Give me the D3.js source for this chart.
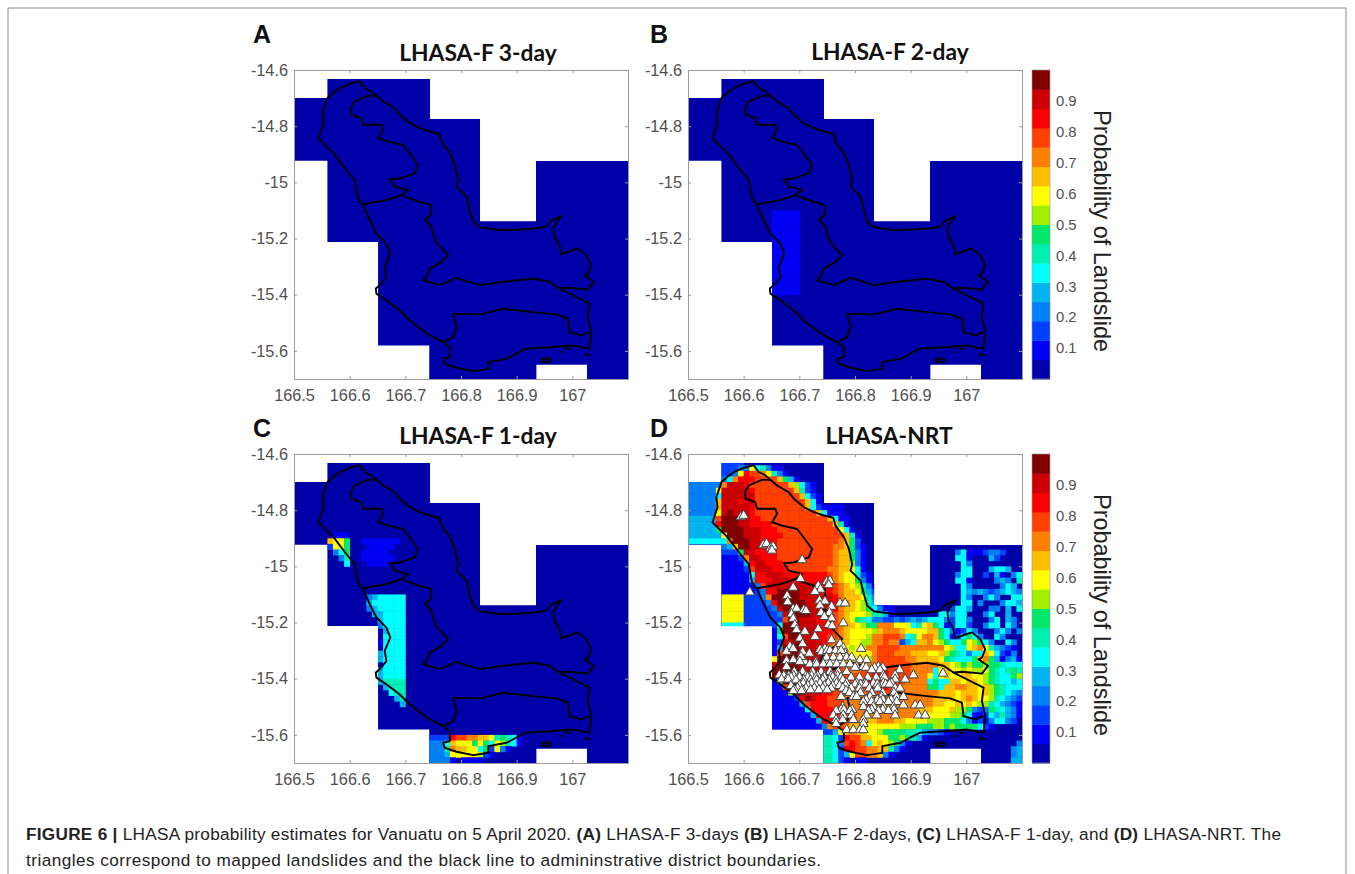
<!DOCTYPE html>
<html><head><meta charset="utf-8">
<script src="https://cdnjs.cloudflare.com/ajax/libs/d3/7.8.5/d3.min.js"></script>
<style>html,body{margin:0;padding:0;background:#fff}svg{display:block}</style>
</head><body><svg id="c" width="1355" height="874"></svg>
<script>
const panelTitles = ["LHASA-F 3-day","LHASA-F 2-day","LHASA-F 1-day","LHASA-NRT"];
const panelLetters = ["A","B","C","D"];
const latTicks = [-14.6,-14.8,-15,-15.2,-15.4,-15.6];
const latTickLabels = ["-14.6","-14.8","-15","-15.2","-15.4","-15.6"];
const lonTicks = [166.5,166.6,166.7,166.8,166.9,167];
const lonTickLabels = ["166.5","166.6","166.7","166.8","166.9","167"];
const probTicks = [0.1,0.2,0.3,0.4,0.5,0.6,0.7,0.8,0.9];
const levelColors = ["#0000a8","#0000f5","#0040ff","#0080f5","#00b4f0","#00ffff","#00f0b4","#00e86a","#a0f000","#ffff00","#ffbf00","#ff8000","#ff4000","#ff0000","#cc0000","#800000"];
// data extent columns: lon0, lon1, north lat, south lat
const domainColumns = [
 [166.5,166.56,-14.698,-14.923],[166.56,166.651,-14.632,-15.213],[166.651,166.743,-14.632,-15.581],
 [166.743,166.833,-14.773,-15.7],[166.833,166.934,-15.138,-15.7],[166.934,167.026,-14.923,-15.649],[167.026,167.1,-14.923,-15.7]];
// probability level per cell (hex 0-f); 0.01 deg lon x 0.02 deg lat, from 166.5E, -14.6
const gridA = [];
const gridB = ["","","","","","","","","","","","","","","","","","","","","","","","","",
 "0000000000 0000011111","0000000000 0000011111","0000000000 0000011111","0000000000 0000011111","0000000000 0000011111",
 "0000000000 0000011111","0000000000 0000011111","0000000000 0000011111","0000000000 0000011111","0000000000 0000011111",
 "0000000000 0000011111","0000000000 0000011111","0000000000 0000011111","0000000000 0000011111","0000000000 0000011111"];
const gridC = ["","","","","","","","","","","","","","",
 "0000000111","000000a997 0011111110","0000002997 0001111100","0000000357 0011111000","0000000036 0011111100","0000000005 0001111000",
 "","","","","",
 "0000000000 0003455555","0000000000 0004555555","0000000000 0003455555","0000000000 0000445555","0000000000 0000045555",
 "0000000000 0000035555","0000000000 0000004555","0000000000 0000005555","0000000000 0000015555","0000000000 0000105555",
 "0000000000 0000145555","0000000000 0000145555","0000000000 0000105555","0000000000 0000045555","0000000000 0000445555",
 "0000000000 0000046666","0000000000 0000004666","0000000000 0000000566","0000000000 0000000046","0000000000 0000000004",
 "","","","","",
 "0000000000 0000000000 00002222dc cbbaa96765 1",
 "0000000000 0000000000 00003335a9 9979759865 1",
 "0000000000 0000000000 00003336ba a995729310",
 "0000000000 0000000000 0000333499 9998210000",
 "0000000000 0000000000 0000333310 1111000000"];
const gridD = [
 "",
 "0000002222",
 "0000002223 3956311000",
 "0000002239 dccb963100",
 "00000035bd ddcccca741",
 "333333beee dccccccca8 521",
 "333339eeee edccccccca 6210",
 "333335eeee eecccccccc a521",
 "33333aeeed eecccccccc ca51",
 "33333aeeee edcccccccc ca52111100",
 "333339efee edcccccccc ccca511100",
 "44444cfffe eddccccccc ccccca5110",
 "44444dfffe eddddccccc cccccca610",
 "444447ffff eeedddcccc ccccccc951",
 "4444449fff eeeddddccc cccccccca6 1",
 "5555555bff feedddcccc cccccccba7 2",
 "00000034af feedddcccc ccccccbba7 21",
 "0000002227 eeddddcccc ccccccbaa7 3100000000 0000000035 1112332000",
 "0000001112 beedddcccc ccccccbaa7 3100000000 0000000055 1000420000",
 "0000001111 4deedddccc ccccccbaa8 3100000000 0000000005 3000000000",
 "0000001111 2ceeedddcc cccccbbaa9 5100000000 0000000005 5000455400",
 "0000001111 15ddeeeddd dddddcba99 6210000000 0000000035 5002041035",
 "0000001111 14dddeeedd dddddcba99 7310000000 0000000055 1000034306",
 "0000001111 113ceeeeee eeedddcba9 8631000000 0000000005 3000003540",
 "0000001111 1123ddffff eeeeddcbaa 9742100000 0000000005 4343234543",
 "0000009999 2223bfffff eeeeeedbaa a963100000 0000000005 3003530055",
 "0000009999 22223dffff feeeeedcba 9864210000 0000000005 5030003554",
 "0000009999 222223efff feeeeddbaa 9875311000 0000000255 4000330405",
 "0000009999 2222223eff ffeeedcba9 9986641000 0000055355 0003500400",
 "0000009999 2222222cff eeedddcba9 7653322323 4345553255 3000350430",
 "0000005555 2222225fff eeedddcbaa 9877bbb999 569a751255 2003550530",
 "0000000000 0000017fff eeedddcba9 9998abbba9 999aa75312 5300035303",
 "0000000000 0000015cff eeeddccba9 998bbcccb5 69bba75125 7530053000",
 "0000000000 0000012eef eeeedcbaa9 988bbcbb24 5aab987557 9875300530",
 "0000000000 0000014fff eeedcba998 98bbccccbb bbbbbb9855 9ab9643210",
 "0000000000 000001cfff eeeedcbaa9 999bcccbbb aaa99a8765 355a952130",
 "0000000000 000019ffff eeeedcbaa9 998bcccccb baaaa97655 57ab741341",
 "0000000000 00013effff eeeedddcbb bbbbcccccc bbbbbaa987 8778776555",
 "0000000000 0007ffffff eeeedddccb bcccddcccc bbbb59a998 9889765676",
 "0000000000 0009ffffff eeeddddccc cccdddcccc bbb959a99a a998765578",
 "0000000000 0000016fff eeedddcccc ccddddcccb bbb5755aa9 aa98765545",
 "0000000000 0000011cff eeeedddccb bccdddccbb bbb775aabb aa9a876555",
 "0000000000 000001118f feeeddcccb bbcccccbbb bbbbbaaa9a aa9a876543",
 "0000000000 0000011112 dfeddcccbb bbcbbbbbbb bbbbaaaa9a ba99865432",
 "0000000000 0000011111 4cdddcccbb bbcbbbbbbb bbbbaa99a9 a988654321",
 "0000000000 0000011111 15ddddccbb bbbbbbbbbb baaa999a88 7323765431",
 "0000000000 0000011111 114ddddccb bbbbbbbbbb baa9999887 5112546431",
 "0000000000 0000011111 1114ddcccb baaabbbaa9 9998887775 3121355320",
 "0000000000 0000011111 11113bccba aa99999988 8777887877 7752100000",
 "0000000000 0000000000 00002249ab aa99877776 6543321000 0000000000",
 "0000000000 0000000000 00006652dc caa9997787 6410000000 0000000000",
 "0000000000 0000000000 00006653cd cb59a98731 0000000000 0000000003",
 "0000000000 0000000000 00006652dd ccbbaa6310 0000000000 0000000034",
 "0000000000 0000000000 0000665249 ccbba31000 0000000000 0000000034",
 "0000000000 0000000000 0000665210 1100000000 0000000000 0000000044"];
const coast = [[166.618,-14.64],[166.627,-14.664],[166.639,-14.676],[166.648,-14.692],[166.66,-14.712],[166.681,-14.736],[166.69,-14.759],[166.708,-14.789],[166.726,-14.807],[166.744,-14.819],[166.761,-14.827],[166.765,-14.855],[166.78,-14.896],[166.789,-14.938],[166.795,-14.992],[166.792,-15.015],[166.81,-15.051],[166.816,-15.099],[166.822,-15.14],[166.834,-15.16],[166.87,-15.17],[166.905,-15.168],[166.929,-15.165],[166.953,-15.158],[166.962,-15.137],[166.98,-15.12],[166.971,-15.146],[166.966,-15.164],[166.968,-15.194],[166.976,-15.218],[166.98,-15.256],[166.992,-15.247],[167.01,-15.235],[167.025,-15.259],[167.034,-15.295],[167.028,-15.325],[167.022,-15.331],[167.031,-15.343],[167.039,-15.354],[167.028,-15.382],[167.007,-15.378],[166.992,-15.375],[166.977,-15.378],[167.007,-15.408],[167.031,-15.432],[167.028,-15.479],[167.034,-15.533],[167.031,-15.592],[167.001,-15.581],[166.959,-15.587],[166.917,-15.592],[166.899,-15.61],[166.882,-15.628],[166.849,-15.64],[166.849,-15.664],[166.822,-15.672],[166.792,-15.66],[166.771,-15.646],[166.768,-15.628],[166.78,-15.622],[166.78,-15.587],[166.768,-15.569],[166.744,-15.545],[166.711,-15.497],[166.69,-15.456],[166.666,-15.42],[166.648,-15.396],[166.647,-15.378],[166.654,-15.366],[166.666,-15.337],[166.663,-15.301],[166.673,-15.253],[166.666,-15.218],[166.648,-15.182],[166.636,-15.134],[166.624,-15.081],[166.615,-15.057],[166.609,-14.992],[166.594,-14.956],[166.571,-14.896],[166.553,-14.861],[166.544,-14.843],[166.553,-14.789],[166.551,-14.754],[166.56,-14.7],[166.574,-14.676],[166.583,-14.664],[166.6,-14.649],[166.618,-14.64]];
const districtNorth = [[166.648,-14.692],[166.633,-14.692],[166.609,-14.712],[166.602,-14.736],[166.603,-14.759],[166.621,-14.771],[166.624,-14.795],[166.657,-14.795],[166.66,-14.813],[166.651,-14.843],[166.669,-14.855],[166.696,-14.867],[166.705,-14.89],[166.723,-14.938],[166.717,-14.968],[166.69,-14.986],[166.672,-14.989],[166.681,-15.015],[166.705,-15.027],[166.693,-15.045],[166.666,-15.063],[166.624,-15.078]];
const districtMid = [[166.696,-15.049],[166.726,-15.069],[166.746,-15.081],[166.746,-15.116],[166.735,-15.132],[166.747,-15.158],[166.753,-15.206],[166.765,-15.235],[166.777,-15.259],[166.765,-15.283],[166.744,-15.307],[166.738,-15.337],[166.732,-15.349],[166.762,-15.366],[166.792,-15.34],[166.834,-15.366],[166.876,-15.354],[166.929,-15.343],[166.959,-15.354],[166.977,-15.378]];
const districtSouth = [[167.031,-15.533],[167.016,-15.545],[166.995,-15.533],[166.992,-15.485],[166.971,-15.47],[166.929,-15.462],[166.876,-15.45],[166.834,-15.47],[166.786,-15.468],[166.792,-15.515],[166.786,-15.551],[166.768,-15.569]];
const islet = [[166.943,-15.634],[166.948,-15.628],[166.956,-15.627],[166.962,-15.632],[166.958,-15.639],[166.949,-15.64],[166.943,-15.634]];
const rocks = [[[166.987,-15.591],[166.996,-15.593]],[[166.978,-15.604],[166.982,-15.604]],[[167.022,-15.612],[167.034,-15.615]]];
// mapped landslides: [lat, lon...]
const landslides = [
 [-14.824,166.595],[-14.819,166.6],[-14.924,166.635],[-14.919,166.641],[-14.935,166.648],[-14.929,166.653],[-14.943,166.651],
 [-14.977,166.705],[-15.044,166.702],[-15.092,166.611],[-15.075,166.689],[-15.105,166.678],[-15.127,166.679],
 [-15.069,166.734],[-15.082,166.738],[-15.09,166.728],[-15.055,166.749],[-15.051,166.755],[-15.066,166.753],
 [-15.121,166.736],[-15.124,166.746],[-15.139,166.737],[-15.143,166.758],[-15.131,166.773,166.782],
 [-15.152,166.689],[-15.15,166.695],[-15.155,166.708],[-15.158,166.712],[-15.17,166.686],[-15.186,166.689],
 [-15.165,166.739,166.754],[-15.179,166.745],[-15.185,166.758],[-15.208,166.752,166.692],[-15.202,166.779],[-15.223,166.734],[-15.212,166.759],
 [-15.226,166.695],[-15.232,166.71],[-15.25,166.728],[-15.256,166.701],[-15.262,166.758],[-15.276,166.706,166.773],
 [-15.285,166.683],[-15.303,166.677],[-15.293,166.689,166.746,166.811],[-15.291,166.779],[-15.296,166.737],[-15.305,166.74,166.706],[-15.31,166.782,166.718],
 [-15.30,166.75,166.755,166.765,166.775],[-15.34,166.71,166.73,166.75,166.76,166.775],
 [-15.322,166.703],[-15.336,166.677],[-15.333,166.689],[-15.357,166.677],[-15.339,166.701],
 [-15.324,166.749,166.761,166.773,166.785,166.794],[-15.333,166.809,166.821],
 [-15.348,166.719,166.731,166.743,166.755,166.767,166.779,166.791],[-15.357,166.803,166.815,166.842],
 [-15.36,166.8,166.82,166.835,166.85],
 [-15.369,166.88,166.83,166.845],[-15.375,166.691,166.706,166.724,166.739,166.755,166.77,166.785],
 [-15.387,166.664,166.673,166.851,166.872,166.905],[-15.381,166.958],
 [-15.39,166.672,166.681,166.69,166.7,166.712,166.722,166.733,166.745,166.757,166.769],
 [-15.395,166.685,166.7,166.715,166.73,166.745,166.76,166.775,166.793,166.808,166.823,166.838,166.853],
 [-15.402,166.668,166.68,166.872,166.89],
 [-15.405,166.694,166.708,166.72,166.731,166.742,166.754,166.766,166.778],
 [-15.416,166.707,166.722,166.737,166.752,166.767,166.785,166.803,166.818,166.833,166.851,166.866],
 [-15.42,166.8,166.81,166.82,166.84,166.855,166.862],
 [-15.425,166.685,166.7,166.715,166.73,166.745,166.76,166.772,166.783],
 [-15.434,166.697,166.712,166.727,166.742,166.757,166.778,166.793,166.808,166.826,166.841,166.872,166.881],
 [-15.44,166.692,166.706,166.72,166.735,166.75],
 [-15.443,166.689,166.704,166.784],[-15.45,166.79,166.81,166.83,166.85,166.87],
 [-15.464,166.775,166.797,166.803,166.827,166.848,166.875,166.887],[-15.475,166.82,166.84,166.85,166.865],
 [-15.482,166.815,166.83,166.845,166.86,166.875],[-15.494,166.908,166.917,166.887],
 [-15.5,166.778,166.815,166.833,166.851,166.869],[-15.51,166.775,166.78,166.795,166.83,166.85,166.87],[-15.514,166.766,166.791,166.824,166.842,166.86],
 [-15.53,166.761,166.779,166.794,166.821,166.839,166.872,166.914,166.926],
 [-15.546,166.766,166.778,166.797,166.815],[-15.56,166.766,166.815],[-15.582,166.785,166.797,166.809,166.815]];

const svg = d3.select("#c");
const W = 334, H = 309;
const sans = "'Liberation Sans',Arial,sans-serif";
const defs = svg.append("defs");
defs.append("filter").attr("id","soft").attr("x","-2%").attr("y","-2%").attr("width","104%").attr("height","104%")
  .append("feGaussianBlur").attr("stdDeviation",0.55);
const layouts = [{x:294,y:70,g:gridA,t:false},{x:688,y:70,g:gridB,t:false},{x:294,y:454,g:gridC,t:false},{x:688,y:454,g:gridD,t:true}];
const parse = s => s.replace(/\s/g,"");
const titleCx = [478,890,478,889];
const letterPos = [[253,43],[650,43],[253,437],[650,437]];
const titleY = [61,60,444,444];

layouts.forEach((L,i)=>{
  const x = d3.scaleLinear().domain([166.5,167.1]).range([L.x,L.x+W]);
  const y = d3.scaleLinear().domain([-14.6,-15.7]).range([L.y,L.y+H]);
  const g = svg.append("g");
  const clipId = "clip"+i;
  const cp = defs.append("clipPath").attr("id",clipId);
  cp.selectAll("rect").data(domainColumns).join("rect").attr("shape-rendering","crispEdges")
    .attr("x",d=>x(d[0])).attr("y",d=>y(d[2])).attr("width",d=>x(d[1])-x(d[0])+0.8).attr("height",d=>y(d[3])-y(d[2]));
  const map = g.append("g").attr("filter","url(#soft)");
  const heat = map.append("g").attr("clip-path",`url(#${clipId})`);
  heat.selectAll("rect.base").data(domainColumns).join("rect").attr("class","base").attr("shape-rendering","crispEdges")
    .attr("x",d=>x(d[0])).attr("y",d=>y(d[2])).attr("width",d=>x(d[1])-x(d[0])+1).attr("height",d=>y(d[3])-y(d[2]))
    .attr("fill",levelColors[0]);
  const cells=[];
  L.g.forEach((row,r)=>{ parse(row).split("").forEach((ch,c)=>{ const v=parseInt(ch,16); if(v>0&&c<60) cells.push({r,c,v}); }); });
  heat.selectAll("rect.cell").data(cells).join("rect").attr("class","cell")
    .attr("x",d=>x(166.5+d.c*0.01)).attr("y",d=>y(-14.6-d.r*0.02))
    .attr("width",d=>x(166.51)-x(166.5)+0.4).attr("height",d=>y(-14.62)-y(-14.6)+0.4)
    .attr("fill",d=>levelColors[d.v]);
  const line = d3.line().x(d=>x(d[0])).y(d=>y(d[1])).curve(d3.curveLinear);
  [coast,districtNorth,districtMid,districtSouth,islet,...rocks].forEach(p=>{
    map.append("path").attr("d",line(p)).attr("fill","none").attr("stroke","#000").attr("stroke-width",1.9).attr("stroke-linejoin","round");
  });
  const ax = g.append("g").attr("font-family",sans);
  const grey = "#9a9a9a";
  const ya = d3.axisLeft(y).tickValues(latTicks).tickSize(-3).tickPadding(6).tickFormat((d,k)=>latTickLabels[k]);
  const xa = d3.axisBottom(x).tickValues(lonTicks).tickSize(-3).tickPadding(10).tickFormat((d,k)=>lonTickLabels[k]);
  const top = d3.axisTop(x).tickValues(lonTicks).tickSize(-3).tickFormat(()=>"");
  const right = d3.axisRight(y).tickValues(latTicks).tickSize(-3).tickFormat(()=>"");
  const sty = s=>{ s.selectAll("path,line").attr("stroke",grey).attr("stroke-width",1); s.selectAll("text").attr("fill","#505050").attr("font-size",16.3).attr("font-family",sans); };
  ax.append("g").attr("transform",`translate(${L.x},0)`).call(ya).call(sty);
  ax.append("g").attr("transform",`translate(0,${L.y+H})`).call(xa).call(sty);
  ax.append("g").attr("transform",`translate(0,${L.y})`).call(top).call(sty);
  ax.append("g").attr("transform",`translate(${L.x+W},0)`).call(right).call(sty);
  if(L.t){
    const pts=[]; landslides.forEach(r=>r.slice(1).forEach(lon=>pts.push([lon,r[0]])));
    g.append("g").selectAll("path").data(pts).join("path")
      .attr("d",d3.symbol(d3.symbolTriangle).size(40))
      .attr("transform",d=>`translate(${x(d[0])},${y(d[1])})`)
      .attr("fill","#fff").attr("stroke","#444").attr("stroke-width",1);
  }
  svg.append("text").text(panelLetters[i]).attr("x",letterPos[i][0]).attr("y",letterPos[i][1])
    .attr("font-family",sans).attr("font-weight","bold").attr("font-size",25).attr("fill","#111");
  svg.append("text").text(panelTitles[i]).attr("x",titleCx[i]).attr("y",titleY[i]).attr("text-anchor","middle")
    .attr("font-family","Lato,sans-serif").attr("font-weight","bold").attr("font-size",22.8).attr("fill","#111");
});

[70,454].forEach(top=>{
  const cy = d3.scaleLinear().domain([0,1]).range([top+309,top]);
  const g = svg.append("g");
  const bar = g.append("g").attr("filter","url(#soft)");
  bar.selectAll("rect").data(levelColors).join("rect")
    .attr("x",1032).attr("width",18).attr("y",(d,i)=>cy((i+1)/16)).attr("height",(d,i)=>cy(i/16)-cy((i+1)/16)+0.5).attr("fill",d=>d);
  const a = d3.axisRight(cy).tickValues(probTicks).tickSize(0).tickPadding(6).tickFormat(d3.format(".1f"));
  const ag = g.append("g").attr("transform","translate(1050,0)").call(a);
  ag.select("path").remove();
  ag.selectAll("text").attr("fill","#505050").attr("font-size",14.8).attr("font-family",sans);
  g.append("rect").attr("x",1032).attr("y",top).attr("width",18).attr("height",309).attr("fill","none").attr("stroke","#9a9a9a").attr("stroke-width",0.6);
  g.append("text").text("Probability of Landslide")
    .attr("transform",`translate(1094,${top+161}) rotate(90)`).attr("text-anchor","middle")
    .attr("font-family",sans).attr("font-size",23.4).attr("fill","#222");
});

svg.append("path").attr("d","M8,874V8H1346V874").attr("fill","none").attr("stroke","#8a8a8a").attr("stroke-width",1);
const cap = svg.append("g").attr("font-family",sans).attr("font-size",17.2).attr("fill","#222");
const l1 = cap.append("text").attr("x",26).attr("y",840).attr("textLength",1255).attr("lengthAdjust","spacing");
[["FIGURE 6 |",1],[" LHASA probability estimates for Vanuatu on 5 April 2020. ",0],["(A)",1],[" LHASA-F 3-days ",0],["(B)",1],[" LHASA-F 2-days, ",0],["(C)",1],[" LHASA-F 1-day, and ",0],["(D)",1],[" LHASA-NRT. The",0]]
 .forEach(t=>l1.append("tspan").text(t[0]).attr("font-weight",t[1]?"bold":"normal"));
cap.append("text").attr("x",26).attr("y",866).attr("textLength",795).attr("lengthAdjust","spacing").text("triangles correspond to mapped landslides and the black line to admininstrative district boundaries.");
</script></body></html>
